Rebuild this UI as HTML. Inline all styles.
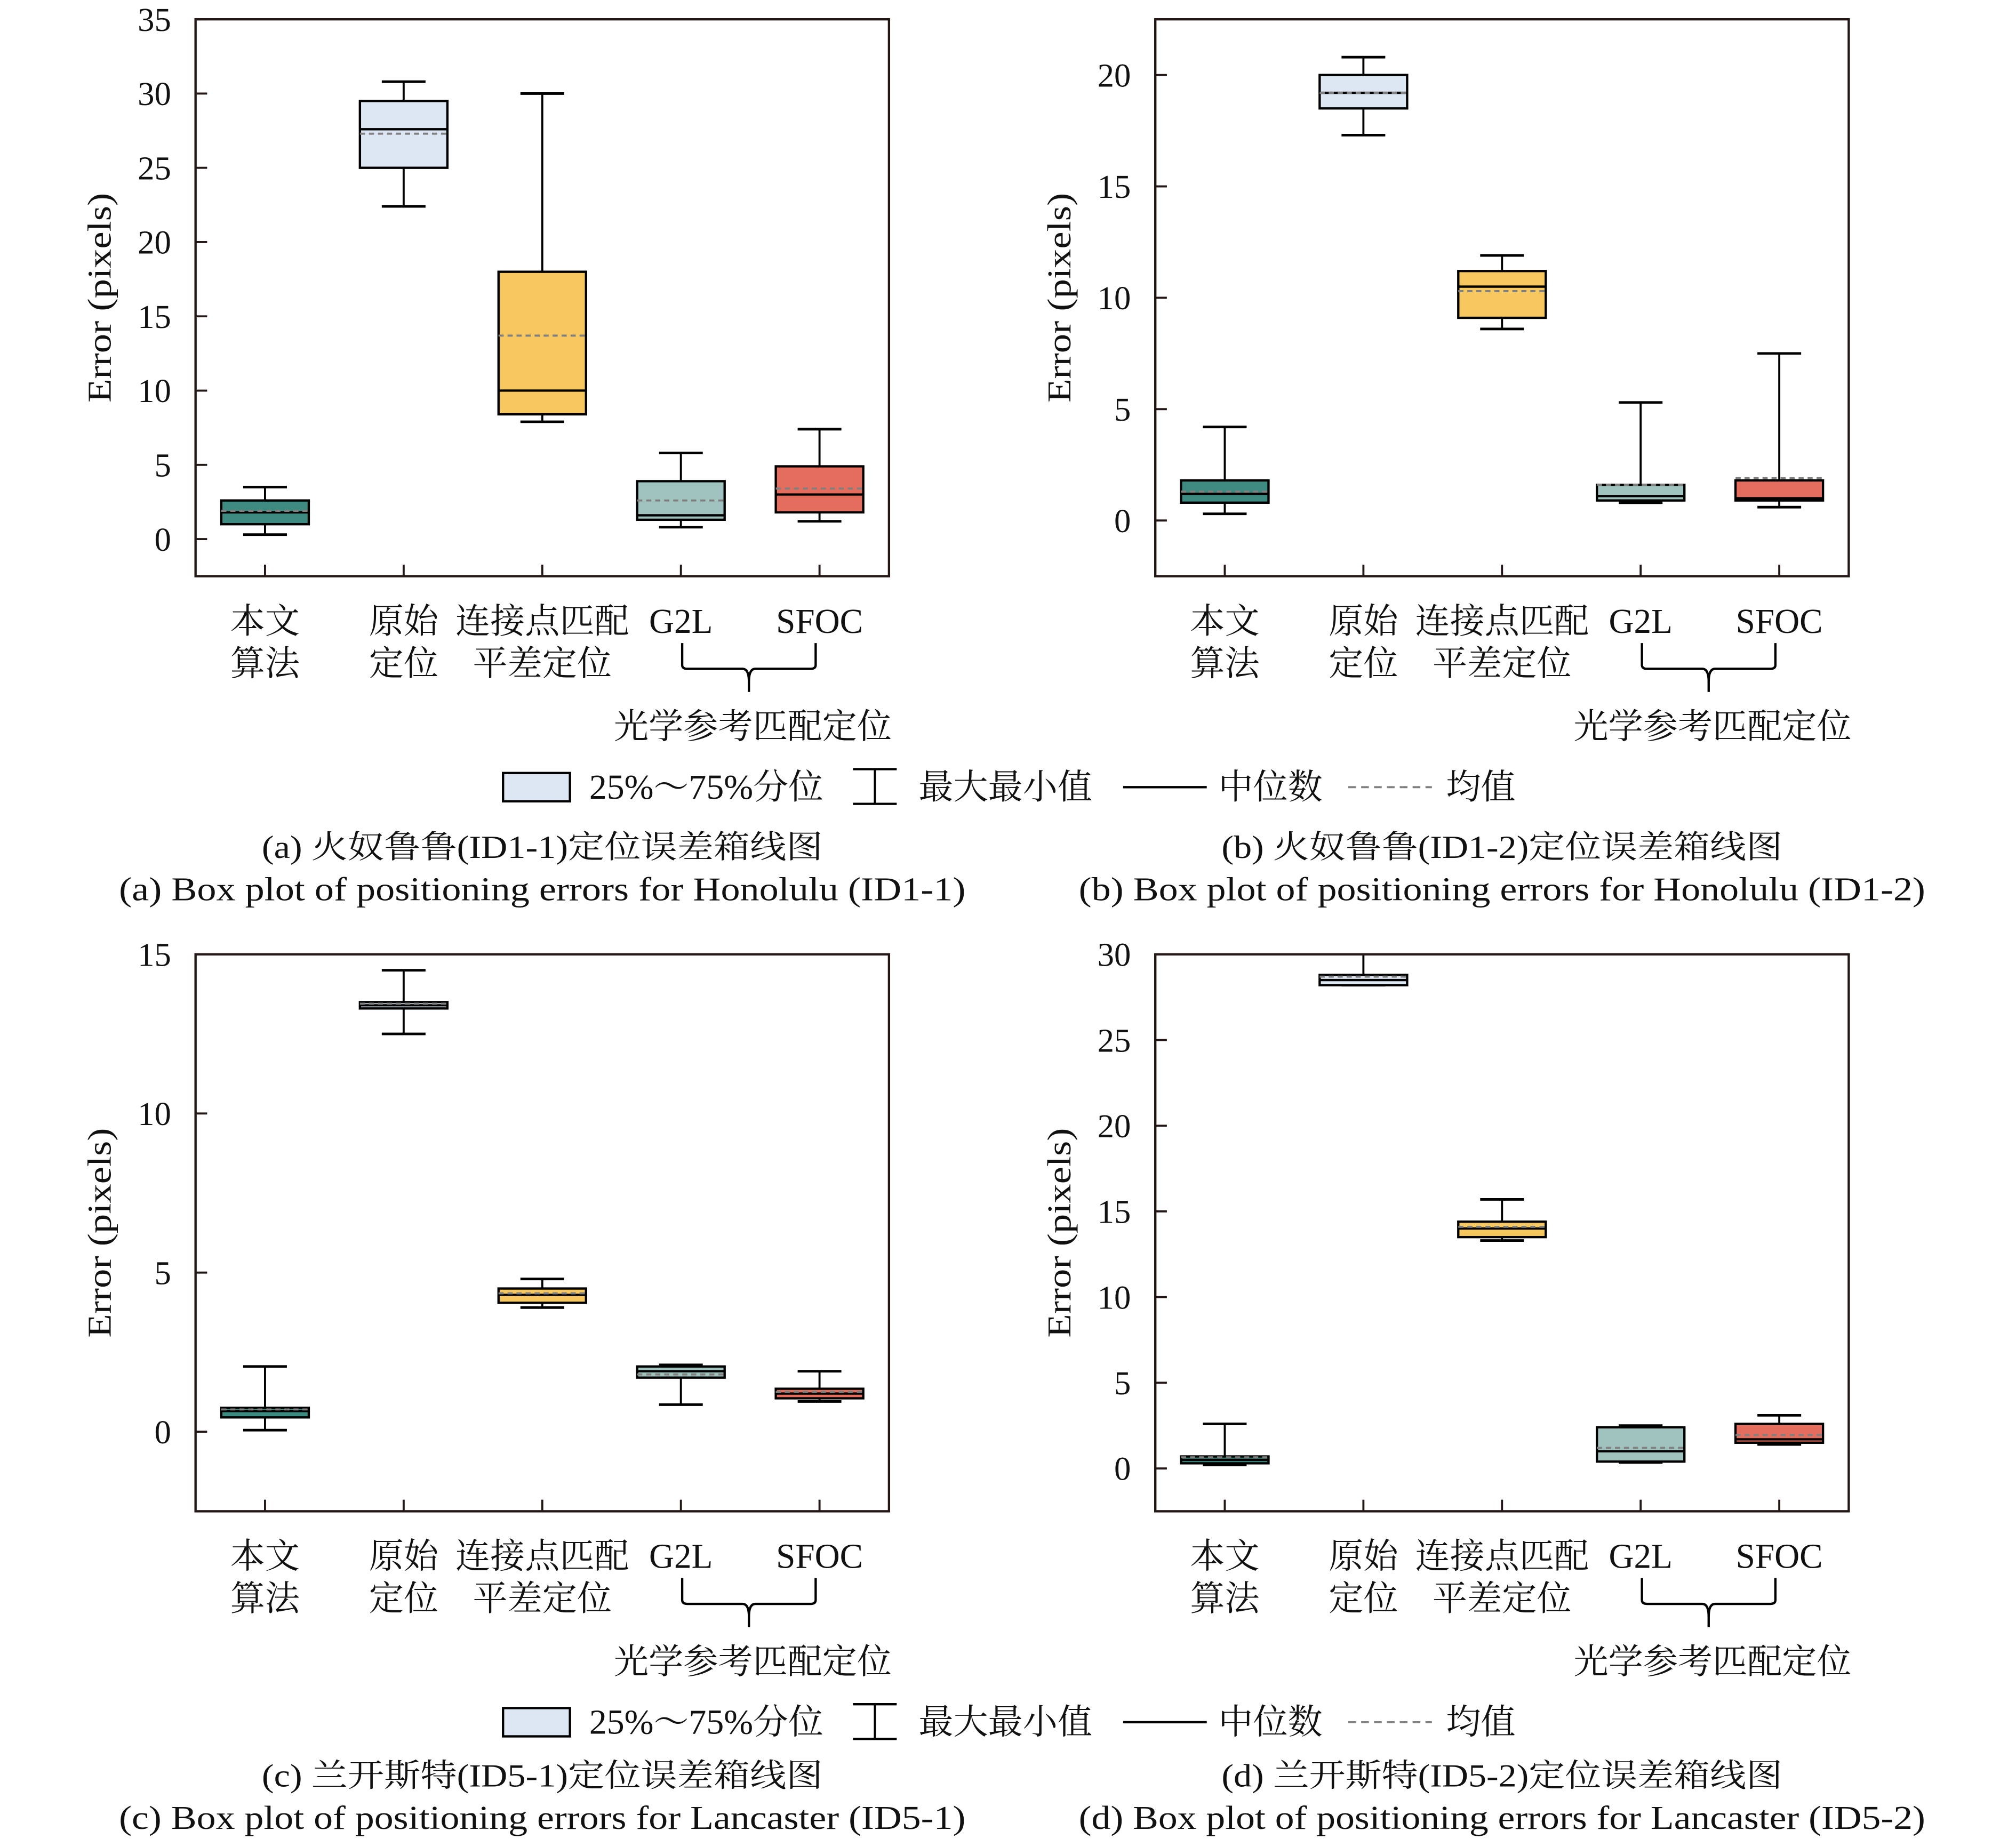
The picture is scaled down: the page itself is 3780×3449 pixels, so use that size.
<!DOCTYPE html>
<html><head><meta charset="utf-8">
<style>
html,body{margin:0;padding:0;background:#fff;}
svg{display:block;font-family:"Liberation Serif","Noto Serif CJK SC","Noto Sans CJK SC",serif;}
</style></head>
<body>
<svg id="fig" width="3780" height="3449" viewBox="0 0 1567 1429.8" xmlns="http://www.w3.org/2000/svg"></svg>
<script>
const categories = [["本文","算法"],["原始","定位"],["连接点匹配","平差定位"],["G2L"],["SFOC"]];
const boxColors = ["#3d8a80","#dce7f3","#f6c85f","#a0c3bf","#e56d5d"];
// panel a
const aMin=[0.3,22.4,7.9,0.8,1.2], aQ1=[1.0,25,8.4,1.3,1.8], aMed=[1.8,27.6,10,1.6,3.0], aMean=[1.9,27.3,13.7,2.6,3.4], aQ3=[2.6,29.5,18,3.9,4.9], aMax=[3.5,30.8,30,5.8,7.4];
const aTicks=[0,5,10,15,20,25,30,35];
// panel b
const bMin=[0.3,17.3,8.6,0.8,0.6], bQ1=[0.8,18.5,9.1,0.9,0.9], bMed=[1.2,19.2,10.5,1.1,1.0], bMean=[1.3,19.2,10.3,1.6,1.9], bQ3=[1.8,20,11.2,1.6,1.8], bMax=[4.2,20.8,11.9,5.3,7.5];
const bTicks=[0,5,10,15,20];
// panel c
const cMin=[0.05,12.5,3.9,0.85,0.95], cQ1=[0.45,13.3,4.05,1.7,1.05], cMed=[0.65,13.4,4.3,1.9,1.2], cMean=[0.7,13.45,4.35,1.8,1.25], cQ3=[0.75,13.5,4.5,2.05,1.35], cMax=[2.05,14.5,4.8,2.1,1.9];
const cTicks=[0,5,10,15];
// panel d
const dMin=[0.2,28.2,13.3,0.35,1.4], dQ1=[0.3,28.2,13.5,0.4,1.5], dMed=[0.5,28.5,14,1.0,1.7], dMean=[0.65,28.7,14.1,1.2,1.95], dQ3=[0.7,28.8,14.4,2.4,2.6], dMax=[2.6,30.2,15.7,2.5,3.1];
const dTicks=[0,5,10,15,20,25,30];

const panels=[
 {id:'a',ox:0,oy:0,cy:0,ymin:-2.5,ymax:35,ticks:aTicks,d:[aMin,aQ1,aMed,aMean,aQ3,aMax],cn:"(a) 火奴鲁鲁(ID1-1)定位误差箱线图",en:"(a) Box plot of positioning errors for Honolulu (ID1-1)",legend:true},
 {id:'b',ox:746,oy:0,cy:0,ymin:-2.5,ymax:22.5,ticks:bTicks,d:[bMin,bQ1,bMed,bMean,bQ3,bMax],cn:"(b) 火奴鲁鲁(ID1-2)定位误差箱线图",en:"(b) Box plot of positioning errors for Honolulu (ID1-2)"},
 {id:'c',ox:0,oy:727,cy:-5,ymin:-2.5,ymax:15,ticks:cTicks,d:[cMin,cQ1,cMed,cMean,cQ3,cMax],cn:"(c) 兰开斯特(ID5-1)定位误差箱线图",en:"(c) Box plot of positioning errors for Lancaster (ID5-1)",legend:true},
 {id:'d',ox:746,oy:727,cy:-5,ymin:-2.5,ymax:30,ticks:dTicks,d:[dMin,dQ1,dMed,dMean,dQ3,dMax],cn:"(d) 兰开斯特(ID5-2)定位误差箱线图",en:"(d) Box plot of positioning errors for Lancaster (ID5-2)"}
];
const NS="http://www.w3.org/2000/svg";
const svg=document.getElementById('fig');
function mk(tag,attrs,parent,text){const e=document.createElementNS(NS,tag);for(const k in attrs)e.setAttribute(k,attrs[k]);if(text!==undefined)e.textContent=text;(parent||svg).appendChild(e);return e;}

panels.forEach(p=>{
  const g=mk('g',{});
  
  
  const L=152+p.ox,R=691+p.ox,T=15+p.oy,B=448+p.oy;
  const y=v=>B-(v-p.ymin)/(p.ymax-p.ymin)*(B-T);
  const x=i=>L+54+i*107.75;
  p.ticks.forEach(t=>{
    const tl=mk('line',{x1:L,x2:L+9,y1:y(t),y2:y(t),stroke:'#231815','stroke-width':1.6},g);
    
    
    const tx=mk('text',{x:L-19,y:y(t)+9,'text-anchor':'end','font-size':26,fill:'#111'},g,String(t));
    
    
  });
  const yt=mk('text',{x:0,y:0,transform:`translate(${L-66},${(T+B)/2}) rotate(-90)`,'text-anchor':'middle','font-size':26,textLength:163,lengthAdjust:'spacingAndGlyphs',fill:'#111'},g,'Error (pixels)');
  
  
  const [mn,q1,md,me,q3,mx]=p.d;
  categories.forEach((c,i)=>{
    const cx=x(i);
    const xt=mk('line',{x1:cx,x2:cx,y1:B,y2:B-9,stroke:'#231815','stroke-width':1.6},g);
    
    
    const bg=mk('g',{},g);
    
    
    const top=Math.max(y(mx[i]),T);
    mk('line',{x1:cx,x2:cx,y1:top,y2:y(q3[i]),stroke:'#000','stroke-width':1.6},bg);
    mk('line',{x1:cx,x2:cx,y1:y(q1[i]),y2:y(mn[i]),stroke:'#000','stroke-width':1.6},bg);
    if(y(mx[i])>=T) mk('line',{x1:cx-17,x2:cx+17,y1:y(mx[i]),y2:y(mx[i]),stroke:'#000','stroke-width':2},bg);
    mk('line',{x1:cx-17,x2:cx+17,y1:y(mn[i]),y2:y(mn[i]),stroke:'#000','stroke-width':2},bg);
    mk('rect',{x:cx-34,y:y(q3[i]),width:68,height:Math.max(y(q1[i])-y(q3[i]),0.5),fill:boxColors[i],stroke:'#000','stroke-width':1.8},bg);
    mk('line',{x1:cx-34,x2:cx+34,y1:y(md[i]),y2:y(md[i]),stroke:'#000','stroke-width':1.8},bg);
    mk('line',{x1:cx-34,x2:cx+34,y1:y(me[i]),y2:y(me[i]),stroke:'#808080','stroke-width':1.6,'stroke-dasharray':'4,3'},bg);
    c.forEach((s,j)=>{
      const lt=mk('text',{x:cx,y:B+44+j*33,'text-anchor':'middle','font-size':27,fill:'#111'},g,s);
      
      
    });
  });
  const fr=mk('rect',{x:L,y:T,width:R-L,height:B-T,fill:'none',stroke:'#231815','stroke-width':1.8},g);
  
  
  const bx1=x(3)+1,bx2=x(4)-3,by=B+52,mid=(bx1+bx2)/2;
  const br=mk('path',{d:`M${bx1},${by} V${by+17} Q${bx1},${by+20} ${bx1+4},${by+20} H${mid-5} Q${mid},${by+20} ${mid},${by+30} V${by+38} M${mid},${by+30} Q${mid},${by+20} ${mid+5},${by+20} H${bx2-4} Q${bx2},${by+20} ${bx2},${by+17} V${by}`,fill:'none',stroke:'#000','stroke-width':1.8},g);
  
  
  const gl=mk('text',{x:mid+3,y:B+126,'text-anchor':'middle','font-size':27,fill:'#111'},g,'光学参考匹配定位');
  
  
  const c1=mk('text',{x:(L+R)/2,y:B+219+p.cy,'text-anchor':'middle','font-size':25,textLength:436,lengthAdjust:'spacingAndGlyphs',fill:'#111'},g,p.cn);
  
  
  const c2=mk('text',{x:(L+R)/2,y:B+252+p.cy,'text-anchor':'middle','font-size':26,textLength:658,lengthAdjust:'spacingAndGlyphs',fill:'#111'},g,p.en);
  
  
  if(p.legend){
    const ly=612+p.oy;
    const lg=mk('g',{},svg);
    
    
    mk('rect',{x:391,y:ly-11,width:52,height:22,fill:'#dce7f3',stroke:'#000','stroke-width':1.8},lg);
    mk('text',{x:458,y:ly+9,'font-size':27,textLength:182,lengthAdjust:'spacingAndGlyphs',fill:'#111'},lg,'25%～75%分位');
    mk('line',{x1:663,x2:697,y1:ly-14,y2:ly-14,stroke:'#000','stroke-width':1.8},lg);
    mk('line',{x1:663,x2:697,y1:ly+13,y2:ly+13,stroke:'#000','stroke-width':1.8},lg);
    mk('line',{x1:680,x2:680,y1:ly-14,y2:ly+13,stroke:'#000','stroke-width':1.6},lg);
    mk('text',{x:714,y:ly+9,'font-size':27,fill:'#111'},lg,'最大最小值');
    mk('line',{x1:873,x2:938,y1:ly,y2:ly,stroke:'#000','stroke-width':1.8},lg);
    mk('text',{x:947,y:ly+9,'font-size':27,fill:'#111'},lg,'中位数');
    mk('line',{x1:1048,x2:1113,y1:ly,y2:ly,stroke:'#808080','stroke-width':1.6,'stroke-dasharray':'6,4'},lg);
    mk('text',{x:1124,y:ly+9,'font-size':27,fill:'#111'},lg,'均值');
  }
});
</script>
</body></html>
